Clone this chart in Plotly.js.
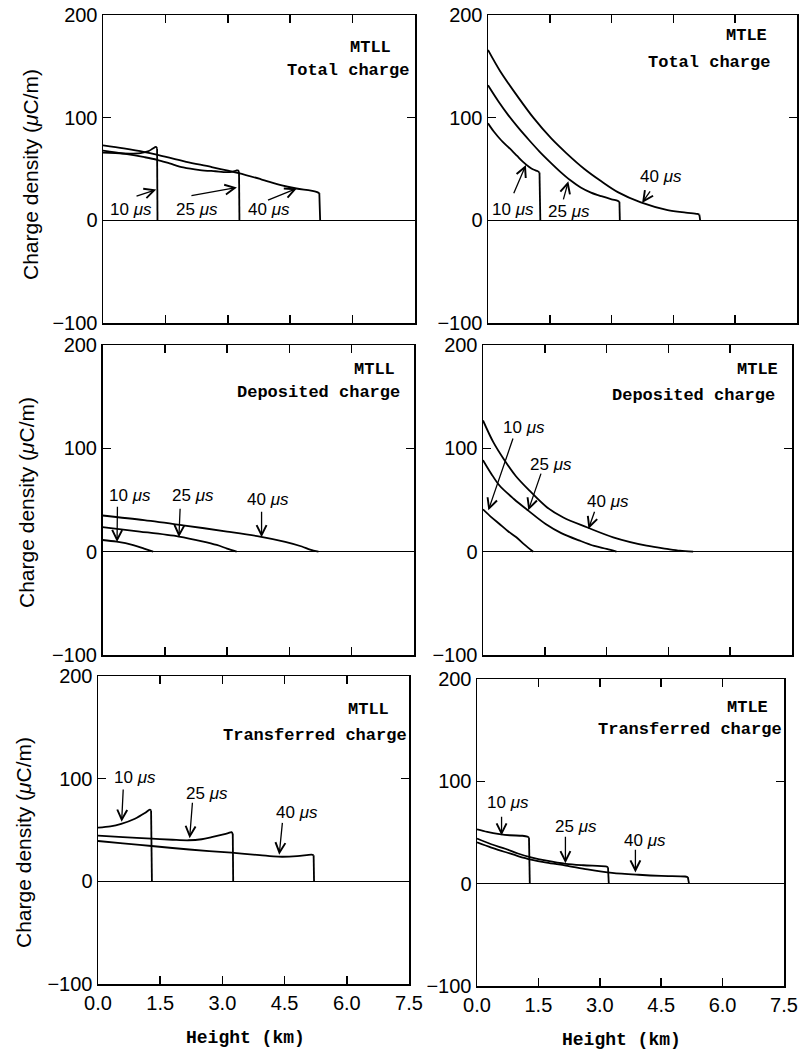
<!DOCTYPE html>
<html>
<head>
<meta charset="utf-8">
<script src="https://cdn.plot.ly/plotly-3.0.1.min.js"></script>
<style>html,body{margin:0;padding:0;background:#fff;}#plot{width:800px;height:1052px;}</style>
</head>
<body>
<div id="plot"></div>
<script>
// ---------- DATA (height in km, charge density in µC/m) ----------
// MTLL – Total charge
const mtllTotal10x = [0, 0.3, 0.65, 0.9, 1.1, 1.2, 1.27, 1.3, 1.31];
const mtllTotal10y = [66, 65.5, 65, 65.5, 67.5, 70, 71.5, 70, 0];
const mtllTotal25x = [0, 0.5, 1.0, 1.3, 1.6, 1.93, 2.33, 2.7, 2.97, 3.12, 3.2, 3.25, 3.27, 3.28];
const mtllTotal25y = [68, 65, 61.5, 59, 55.5, 51.5, 49, 47.8, 47, 47.5, 48.5, 48.5, 46, 0];
const mtllTotal40x = [0, 0.5, 1.0, 1.29, 2.0, 2.6, 3.26, 3.8, 4.3, 4.65, 5.0, 5.15, 5.2, 5.22];
const mtllTotal40y = [73, 70, 66.5, 64, 57, 52, 46, 40, 34, 31, 29, 27.5, 26.5, 0];
// MTLE – Total charge
const mtleTotal10x = [0, 0.15, 0.32, 0.5, 0.7, 0.85, 1.0, 1.1, 1.2, 1.25, 1.27];
const mtleTotal10y = [94.5, 86, 78, 71, 63, 57, 52, 49.5, 48, 46.5, 0];
const mtleTotal25x = [0, 0.25, 0.5, 0.75, 1.0, 1.25, 1.5, 1.75, 2.0, 2.25, 2.5, 2.75, 3.0, 3.15, 3.19, 3.2];
const mtleTotal25y = [131.5, 116, 102, 89.5, 78, 67, 57, 47.5, 39, 32, 27, 23.5, 20.5, 19, 18, 0];
const mtleTotal40x = [0, 0.3, 0.73, 1.1, 1.53, 1.9, 2.34, 2.75, 3.15, 3.71, 4.36, 4.8, 5.08, 5.13, 5.15];
const mtleTotal40y = [166, 145, 120, 100, 80, 65.5, 50, 38, 27.5, 17.5, 10, 7.5, 6.2, 5.5, 0];
// MTLL – Deposited charge
const mtllDep10x = [0, 0.34, 0.74, 1.0, 1.22];
const mtllDep10y = [11.3, 9.7, 6.4, 3, 0];
const mtllDep25x = [0, 0.9, 1.84, 2.4, 2.75, 3.0, 3.23];
const mtllDep25y = [23.7, 19.5, 14.6, 10, 6.5, 3, 0];
const mtllDep40x = [0, 1.0, 1.94, 3.0, 3.79, 4.4, 4.8, 5.0, 5.2];
const mtllDep40y = [35, 30.5, 25.5, 19.5, 14.6, 9.5, 5, 2, 0];
// MTLE – Deposited charge
const mtleDep10x = [0, 0.2, 0.4, 0.6, 0.81, 1.0, 1.22];
const mtleDep10y = [41, 33.5, 26.8, 20, 13.9, 7, 0];
const mtleDep25x = [0, 0.2, 0.4, 0.75, 1.1, 1.52, 1.9, 2.35, 2.7, 3.0, 3.24];
const mtleDep25y = [88.6, 75.5, 64, 51, 39.7, 26.8, 18, 10.6, 5.5, 2.6, 0];
const mtleDep40x = [0, 0.25, 0.53, 0.8, 1.13, 1.55, 1.95, 2.52, 3.16, 3.97, 4.5, 4.78, 5.1];
const mtleDep40y = [127, 106, 88, 73, 59, 43, 33, 23.6, 13.9, 5.8, 2.5, 1, 0];
// MTLL – Transferred charge
const mtllTr10x = [0, 0.3, 0.56, 0.89, 1.13, 1.25, 1.28, 1.3];
const mtllTr10y = [52.3, 53.5, 56, 61, 66.5, 69.8, 69, 0];
const mtllTr25x = [0, 0.6, 1.29, 1.8, 2.18, 2.5, 2.74, 3.0, 3.14, 3.22, 3.25, 3.26];
const mtllTr25y = [44.5, 43, 41.6, 40.5, 40, 41, 43, 45.5, 47, 48, 46, 0];
const mtllTr40x = [0, 0.6, 1.29, 2.2, 3.22, 3.9, 4.35, 4.8, 5.15, 5.2, 5.21];
const mtllTr40y = [39.3, 37, 34.4, 31, 27.9, 25.5, 24, 24.5, 26, 25.5, 0];
// MTLE – Transferred charge
const mtleTr10x = [0, 0.25, 0.55, 0.8, 1.11, 1.23, 1.27, 1.29];
const mtleTr10y = [53, 50.5, 48.4, 47.3, 46.8, 46, 45, 0];
const mtleTr25x = [0, 0.35, 0.71, 1.0, 1.32, 1.7, 2.17, 2.6, 3.14, 3.2, 3.22];
const mtleTr25y = [44, 38.5, 33.9, 29.5, 25.8, 22.5, 19.4, 18, 16.8, 16, 0];
const mtleTr40x = [0, 0.35, 0.71, 1.0, 1.32, 1.7, 2.17, 2.7, 3.3, 3.95, 4.5, 5.08, 5.15, 5.18];
const mtleTr40y = [40.4, 35.3, 30.7, 27, 23.5, 20.5, 17.7, 14, 10.6, 8.7, 7.6, 7, 6.5, 0];

// Tick values / labels
const xTickVals = [0, 1.5, 3.0, 4.5, 6.0, 7.5];
const xTickText = ['0.0', '1.5', '3.0', '4.5', '6.0', '7.5'];
const yTickVals = [-100, 0, 100, 200];
const yTickText = ['\u2212100', '0', '100', '200'];

// Panel labels
const modelNames = ['MTLL', 'MTLE', 'MTLL', 'MTLE', 'MTLL', 'MTLE'];
const chargeNames = ['Total charge', 'Total charge', 'Deposited charge', 'Deposited charge', 'Transferred charge', 'Transferred charge'];
const timeLabels = ['10 <i>\u03bcs</i>', '25 <i>\u03bcs</i>', '40 <i>\u03bcs</i>'];

// ---------- LAYOUT GEOMETRY (pixels) ----------
const W = 800, H = 1052;
const panels = [
  {x0: 103, x1: 415, y0: 15, y1: 323},
  {x0: 488, x1: 797, y0: 15, y1: 323},
  {x0: 102.5, x1: 414, y0: 345, y1: 655},
  {x0: 483, x1: 792, y0: 345, y1: 655},
  {x0: 98, x1: 409, y0: 676, y1: 984},
  {x0: 477, x1: 784, y0: 679, y1: 986}
];

const seriesByPanel = [
  [[mtllTotal10x, mtllTotal10y], [mtllTotal25x, mtllTotal25y], [mtllTotal40x, mtllTotal40y]],
  [[mtleTotal10x, mtleTotal10y], [mtleTotal25x, mtleTotal25y], [mtleTotal40x, mtleTotal40y]],
  [[mtllDep10x, mtllDep10y], [mtllDep25x, mtllDep25y], [mtllDep40x, mtllDep40y]],
  [[mtleDep10x, mtleDep10y], [mtleDep25x, mtleDep25y], [mtleDep40x, mtleDep40y]],
  [[mtllTr10x, mtllTr10y], [mtllTr25x, mtllTr25y], [mtllTr40x, mtllTr40y]],
  [[mtleTr10x, mtleTr10y], [mtleTr25x, mtleTr25y], [mtleTr40x, mtleTr40y]]
];
// panels whose curves end with a sharp vertical drop (front of the return stroke)
const hasDrop = [true, true, false, false, true, true];

// label placement: [textX, textY, headX, headY, tailX, tailY] per time label
const labelPos = [
  [[0.67, 11, 1.28, 30, 0.77, 23], [2.27, 11, 3.22, 32, 2.09, 23.8], [4.0, 11, 4.66, 31, 3.93, 19]],
  [[0.61, 11, 0.92, 54, 0.61, 24.8], [1.96, 9, 1.95, 38, 1.82, 19], [4.2, 43, 3.74, 17, 3.96, 29.7]],
  [[0.66, 54.7, 0.35, 9.3, 0.36, 45], [2.18, 54.7, 1.84, 14, 1.87, 43], [3.99, 50.5, 3.83, 14, 3.83, 40]],
  [[1.0, 120.6, 0.13, 40, 0.74, 111], [1.65, 84, 1.1, 40, 1.42, 77], [3.04, 49, 2.56, 22, 2.72, 40]],
  [[0.9, 101.6, 0.57, 58, 0.61, 91], [2.64, 86, 2.21, 42, 2.28, 78], [4.8, 67, 4.37, 26, 4.45, 58.4]],
  [[0.76, 79, 0.6, 47, 0.6, 66.8], [2.43, 56, 2.16, 20, 2.16, 47.4], [4.1, 42, 3.87, 11, 3.87, 34.5]]
];
const modelPos = [[6.43, 168], [6.27, 180], [6.54, 176.7], [6.66, 176], [6.53, 167], [6.62, 172.6]];
const chargePos = [[5.88, 145.7], [5.37, 154], [5.2, 154], [5.1, 151], [5.24, 142], [5.2, 151]];

const sansFont = 'Liberation Sans, Arial, Helvetica, sans-serif';
const monoFont = 'Liberation Mono, Courier New, monospace';

const traces = [];
const layout = {
  width: W, height: H,
  margin: {l: 0, r: 0, t: 0, b: 0},
  paper_bgcolor: '#fff', plot_bgcolor: '#fff',
  showlegend: false,
  font: {family: sansFont, color: '#000', size: 20},
  annotations: []
};

panels.forEach((p, i) => {
  const n = i + 1;
  const xs = n === 1 ? '' : String(n);
  const xName = 'x' + xs, yName = 'y' + xs;
  layout['xaxis' + xs] = {
    domain: [p.x0 / W, p.x1 / W], range: [0, 7.5], anchor: yName,
    tickvals: xTickVals, ticktext: xTickText, showticklabels: i >= 4,
    ticks: 'inside', ticklen: 8, tickwidth: 1.5, tickcolor: '#000',
    showline: true, linecolor: '#000', linewidth: 1.5, mirror: 'ticks',
    showgrid: false, zeroline: false, fixedrange: true, ticklabeloverflow: 'allow',
    tickfont: {family: sansFont, size: 20, color: '#000'}
  };
  layout['yaxis' + xs] = {
    domain: [1 - p.y1 / H, 1 - p.y0 / H], range: [-100, 200], anchor: xName,
    tickvals: yTickVals, ticktext: yTickText,
    ticks: 'inside', ticklen: 8, tickwidth: 1.5, tickcolor: '#000',
    showline: true, linecolor: '#000', linewidth: 1.5, mirror: 'ticks',
    showgrid: false, zeroline: true, zerolinecolor: '#000', zerolinewidth: 1.5,
    fixedrange: true, ticklabeloverflow: 'allow',
    tickfont: {family: sansFont, size: 20, color: '#000'}
  };
  seriesByPanel[i].forEach(s => {
    const xv = s[0], yv = s[1];
    const k = hasDrop[i] ? xv.length - 1 : xv.length;
    traces.push({x: xv.slice(0, k), y: yv.slice(0, k), xaxis: xName, yaxis: yName, type: 'scatter', mode: 'lines',
      line: {color: '#000', width: 1.8, shape: 'spline', smoothing: 0.9}, hoverinfo: 'skip'});
    if (hasDrop[i]) {
      traces.push({x: xv.slice(k - 1), y: yv.slice(k - 1), xaxis: xName, yaxis: yName, type: 'scatter', mode: 'lines',
        line: {color: '#000', width: 1.8}, hoverinfo: 'skip'});
    }
  });
  labelPos[i].forEach((lp, k) => {
    layout.annotations.push({xref: xName, yref: yName, x: lp[0], y: lp[1], text: timeLabels[k],
      showarrow: false, font: {family: sansFont, size: 17, color: '#000'}});
    layout.annotations.push({xref: xName, yref: yName, x: lp[2], y: lp[3], axref: xName, ayref: yName,
      ax: lp[4], ay: lp[5], text: '', showarrow: true, arrowhead: 5, arrowsize: 1.5, arrowwidth: 1.3,
      arrowcolor: '#000'});
  });
  layout.annotations.push({xref: xName, yref: yName, x: modelPos[i][0], y: modelPos[i][1], text: '<b>' + modelNames[i] + '</b>',
    showarrow: false, font: {family: monoFont, size: 17, color: '#000'}});
  layout.annotations.push({xref: xName, yref: yName, x: chargePos[i][0], y: chargePos[i][1], text: '<b>' + chargeNames[i] + '</b>',
    showarrow: false, font: {family: monoFont, size: 17, color: '#000'}});
});

// y-axis titles (left column) and x-axis titles (bottom row)
const yTitleCenters = [[31, 175], [27, 503], [23, 843]];
yTitleCenters.forEach(c => {
  layout.annotations.push({xref: 'paper', yref: 'paper', x: c[0] / W, y: 1 - c[1] / H,
    xanchor: 'center', yanchor: 'middle',
    text: 'Charge density (<i>\u03bc</i>C/m)', textangle: -90, showarrow: false,
    font: {family: sansFont, size: 21, color: '#000'}});
});
const xTitleCenters = [[245, 1038], [621.5, 1040]];
xTitleCenters.forEach(c => {
  layout.annotations.push({xref: 'paper', yref: 'paper', x: c[0] / W, y: 1 - c[1] / H,
    xanchor: 'center', yanchor: 'middle',
    text: '<b>Height (km)</b>', showarrow: false,
    font: {family: monoFont, size: 18, color: '#000'}});
});

Plotly.newPlot('plot', traces, layout, {staticPlot: true, displayModeBar: false});
</script>
</body>
</html>
